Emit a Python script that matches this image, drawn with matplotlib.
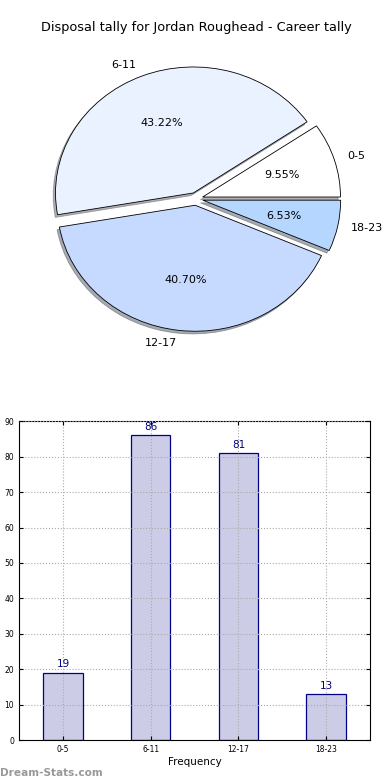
import matplotlib
matplotlib.use('Agg')
import numpy as np
from matplotlib import pyplot as plt

# Данные
categories = ['0-5', '6-11', '12-17', '18-23']
counts = [19, 86, 81, 13]
pie_colors = ['#ffffff', '#eaf1ff', '#c6d9ff', '#b4d6ff']
title = 'Disposal tally for Jordan Roughead - Career tally'

fig = plt.figure(figsize=(3.9, 7.8), dpi=100)

# Круговая диаграмма (эллипс, как в старом matplotlib)
ax1 = fig.add_axes([0.054, 0.54, 0.897, 0.41])
ax1.pie(counts, labels=categories, colors=pie_colors, autopct='%.2f%%',
        explode=[0.05] * len(counts), startangle=0, radius=0.985,
        shadow=dict(ox=-0.012, oy=-0.015, shade=0.6),
        wedgeprops=dict(edgecolor='black', linewidth=0.6),
        textprops=dict(fontsize=8))
ax1.set_aspect('auto')
ax1.set_xlim(-1.25, 1.25)
ax1.set_ylim(-1.25, 1.25)
ax1.set_title(title, fontsize=9.3)

# Столбчатая диаграмма
ax2 = fig.add_axes([0.049, 0.051, 0.9, 0.409])
x = np.arange(len(categories))
ax2.bar(x, counts, width=0.45, color='#ccccE6', edgecolor='#000088', linewidth=0.9)
for xi, c in zip(x, counts):
    ax2.text(xi, c + 1.0, str(c), ha='center', va='bottom', fontsize=7.5, color='#000080')
ax2.set_xlim(-0.5, 3.5)
ax2.set_ylim(0, 90)
ax2.set_xticks(x)
ax2.set_xticklabels(categories)
ax2.set_yticks(np.arange(0, 91, 10))
ax2.tick_params(labelsize=5.5, direction='in', top=True, right=True, length=3)
ax2.grid(True, linestyle=':', color='#aaaaaa', linewidth=0.8)
ax2.set_axisbelow(False)
ax2.set_xlabel('Frequency', fontsize=7.5, labelpad=2)

fig.text(0.0, 0.005, 'Dream-Stats.com', fontsize=7.6, color='#999999', weight='bold')

fig.savefig('out.png', dpi=100)
